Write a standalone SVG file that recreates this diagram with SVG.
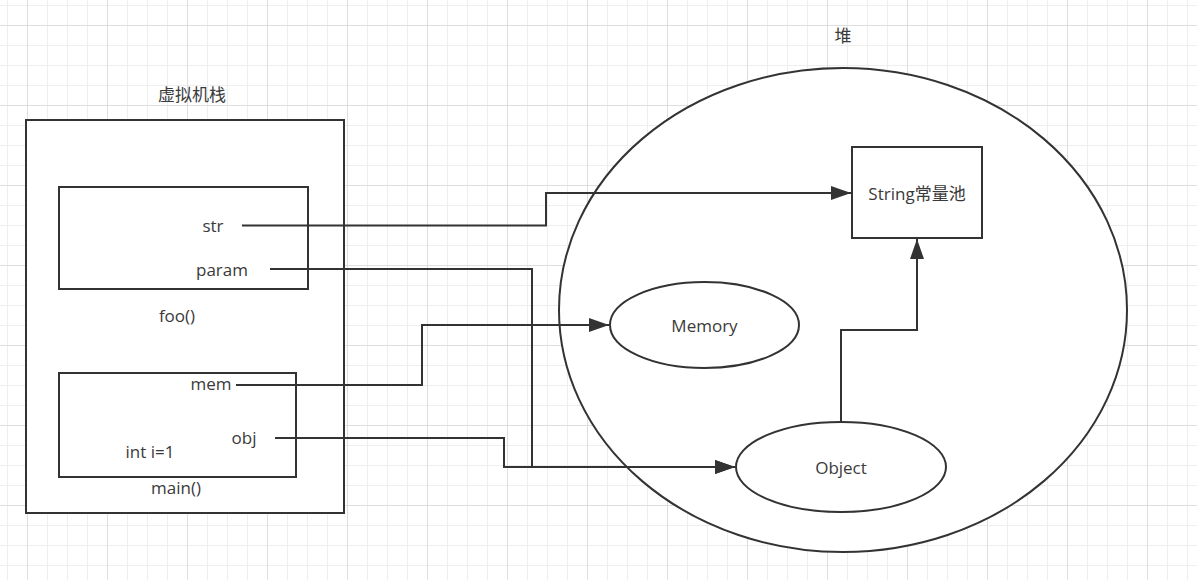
<svg xmlns="http://www.w3.org/2000/svg" width="1197" height="580" viewBox="0 0 1197 580">
<style>
.shape{fill:#fff;stroke:#333;stroke-width:2}
.edge{fill:none;stroke:#333;stroke-width:2}
text{font-family:"Open Sans","Noto Sans CJK SC",sans-serif;font-size:17px;fill:#3a3a3a;text-anchor:middle}
</style>
<defs>
<pattern id="minor" width="20" height="20" patternUnits="userSpaceOnUse" x="7" y="5">
<path d="M0,0.5 H20 M0.5,0 V20" fill="none" stroke="#eeeeee" stroke-width="1"/>
</pattern>
<pattern id="major" width="80" height="80" patternUnits="userSpaceOnUse" x="27" y="25">
<path d="M0,0.5 H80 M0.5,0 V80" fill="none" stroke="#dedede" stroke-width="1"/>
</pattern>
<marker id="arrow" markerUnits="userSpaceOnUse" markerWidth="22" markerHeight="14" refX="20" refY="7" orient="auto">
<path d="M0,0 L20,7 L0,14 z" fill="#333"/>
</marker>
</defs>
<rect width="1197" height="580" fill="#fff"/>
<rect width="1197" height="580" fill="url(#minor)"/>
<rect width="1197" height="580" fill="url(#major)"/>

<g id="stack">
<rect class="shape" x="26" y="120" width="318" height="393"/>
<text x="192" y="101">虚拟机栈</text>
</g>
<g id="foo">
<rect class="shape" x="59" y="187" width="249" height="102"/>
<text x="213" y="232">str</text>
<text x="222" y="276">param</text>
<text x="177" y="322">foo()</text>
</g>
<g id="main">
<rect class="shape" x="59" y="373" width="237" height="104"/>
<text x="211" y="390">mem</text>
<text x="244" y="444">obj</text>
<text x="150" y="458">int i=1</text>
<text x="176" y="494">main()</text>
</g>
<g id="heap">
<ellipse class="shape" cx="843" cy="310" rx="284" ry="242"/>
<text x="843" y="42">堆</text>
</g>
<g id="stringpool">
<rect class="shape" x="852" y="147" width="130" height="91"/>
<text x="917" y="200">String常量池</text>
</g>
<g id="memory">
<ellipse class="shape" cx="704.5" cy="325" rx="94.5" ry="43"/>
<text x="704.5" y="332">Memory</text>
</g>
<g id="object">
<ellipse class="shape" cx="841" cy="467" rx="105" ry="45"/>
<text x="841" y="474">Object</text>
</g>
<g id="connectors">
<path class="edge" d="M242,225.5 H546 V193 H851" marker-end="url(#arrow)"/>
<path class="edge" d="M270,269 H532 V467 H735" marker-end="url(#arrow)"/>
<path class="edge" d="M236,385 H422 V325 H609" marker-end="url(#arrow)"/>
<path class="edge" d="M275,438 H504 V467 H735" marker-end="url(#arrow)"/>
<path class="edge" d="M841,422 V330 H917 V239" marker-end="url(#arrow)"/>
</g>
</svg>
